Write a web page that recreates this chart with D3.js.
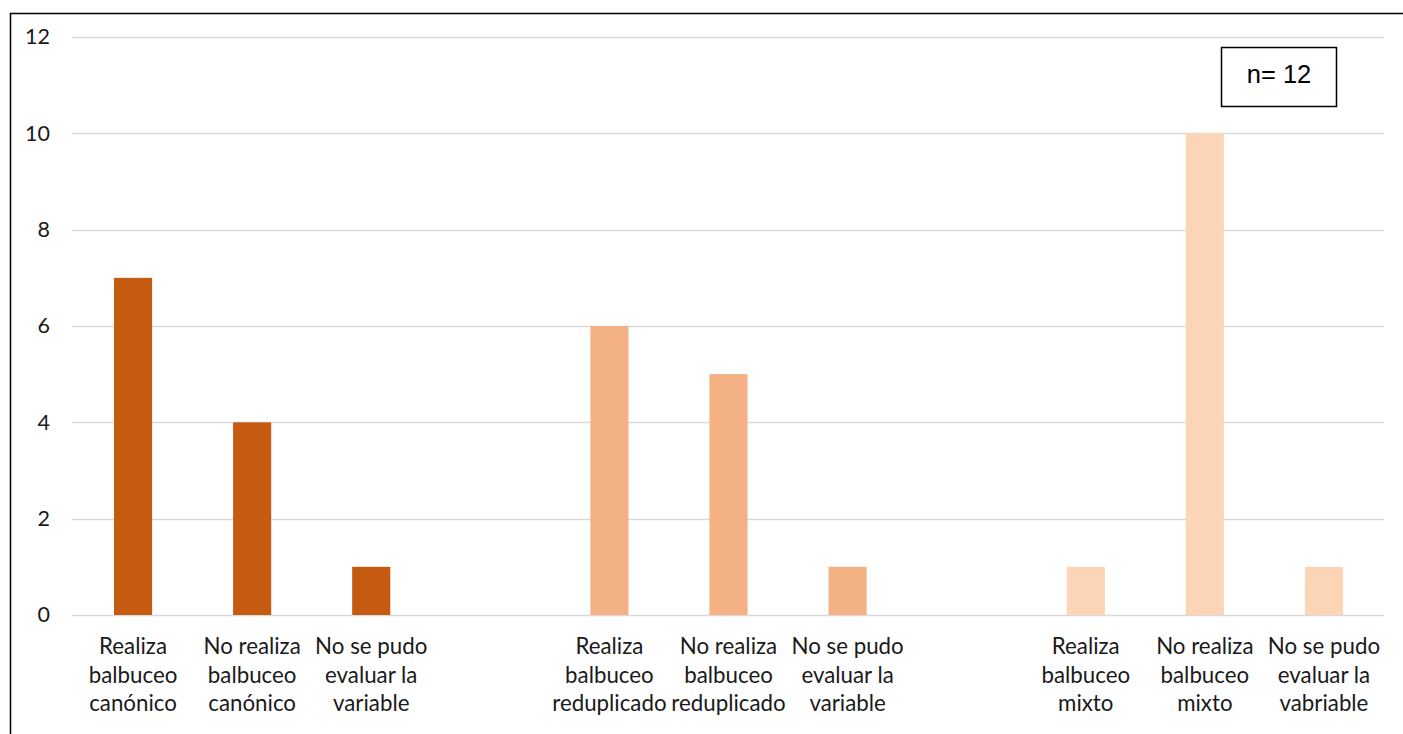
<!DOCTYPE html>
<html><head><meta charset="utf-8">
<script src="https://cdn.jsdelivr.net/npm/d3@7"></script>
<style>body{margin:0;background:#fff}svg{display:block}</style>
</head><body><svg id="c" width="1403" height="734"></svg>
<script>
const categories = [
  "Realiza|balbuceo|canónico", "No realiza|balbuceo|canónico", "No se pudo|evaluar la|variable", "gap1",
  "Realiza|balbuceo|reduplicado", "No realiza|balbuceo|reduplicado", "No se pudo|evaluar la|variable ", "gap2",
  "Realiza|balbuceo|mixto", "No realiza|balbuceo|mixto", "No se pudo|evaluar la|vabriable"
];
const values = [7, 4, 1, null, 6, 5, 1, null, 1, 10, 1];
const groupOf = [0, 0, 0, null, 1, 1, 1, null, 2, 2, 2];
const groupColors = ["#C55A11", "#F4B183", "#FBD5B5"];
const yTicks = [0, 2, 4, 6, 8, 10, 12];
const note = "n= 12";

const svg = d3.select("#c");
const x0 = 72, x1 = 1384, yTop = 37, yBot = 615;
const x = d3.scaleBand().domain(categories).range([x0 + 1.5, x1 - 0.5]).paddingInner(0.68).paddingOuter(0.34);
const y = d3.scaleLinear().domain([0, 12]).range([yBot, yTop]);

// outer border
svg.append("path").attr("d", "M10.5,734 L10.5,13.5 L1403,13.5").attr("fill", "none").attr("stroke", "#000").attr("stroke-width", 1.5);

// gridlines
svg.append("g").selectAll("line").data(yTicks).join("line")
  .attr("x1", x0).attr("x2", x1).attr("y1", d => Math.round(y(d)) + 0.5).attr("y2", d => Math.round(y(d)) + 0.5)
  .attr("stroke", "#d9d9d9").attr("stroke-width", 1.3);

// y axis labels
const yAxis = d3.axisLeft(y).tickValues(yTicks).tickSize(0).tickPadding(0);
const ga = svg.append("g").attr("transform", "translate(50,0)").call(yAxis);
ga.select(".domain").remove();
ga.selectAll("text").attr("font-family", "Lato, 'Open Sans', sans-serif").attr("font-size", 21.5).attr("fill", "#1a1a1a");

// bars
svg.append("g").selectAll("rect").data(categories.map((c, i) => ({c, v: values[i], g: groupOf[i]})).filter(d => d.v != null))
  .join("rect")
  .attr("x", d => x(d.c)).attr("width", x.bandwidth())
  .attr("y", d => y(d.v)).attr("height", d => y(0) - y(d.v))
  .attr("fill", d => groupColors[d.g]);

// category labels
const lab = svg.append("g").attr("font-family", "Lato, 'Open Sans', sans-serif").attr("font-size", 22.3).attr("fill", "#1a1a1a").attr("text-anchor", "middle");
categories.forEach((c, i) => {
  if (values[i] == null) return;
  const t = lab.append("text").attr("x", x(c) + x.bandwidth() / 2).attr("y", 654);
  c.trim().split("|").forEach((line, j) => {
    t.append("tspan").attr("x", x(c) + x.bandwidth() / 2).attr("dy", j === 0 ? 0 : 28.5).text(line);
  });
});

// n box
svg.append("rect").attr("x", 1221.5).attr("y", 47.5).attr("width", 115).attr("height", 59).attr("fill", "#fff").attr("stroke", "#000").attr("stroke-width", 1.5);
svg.append("text").attr("x", 1279).attr("y", 83).attr("text-anchor", "middle").attr("font-family", "'Liberation Sans', Arial, sans-serif").attr("font-size", 25.5).attr("fill", "#000").text(note);
</script></body></html>
